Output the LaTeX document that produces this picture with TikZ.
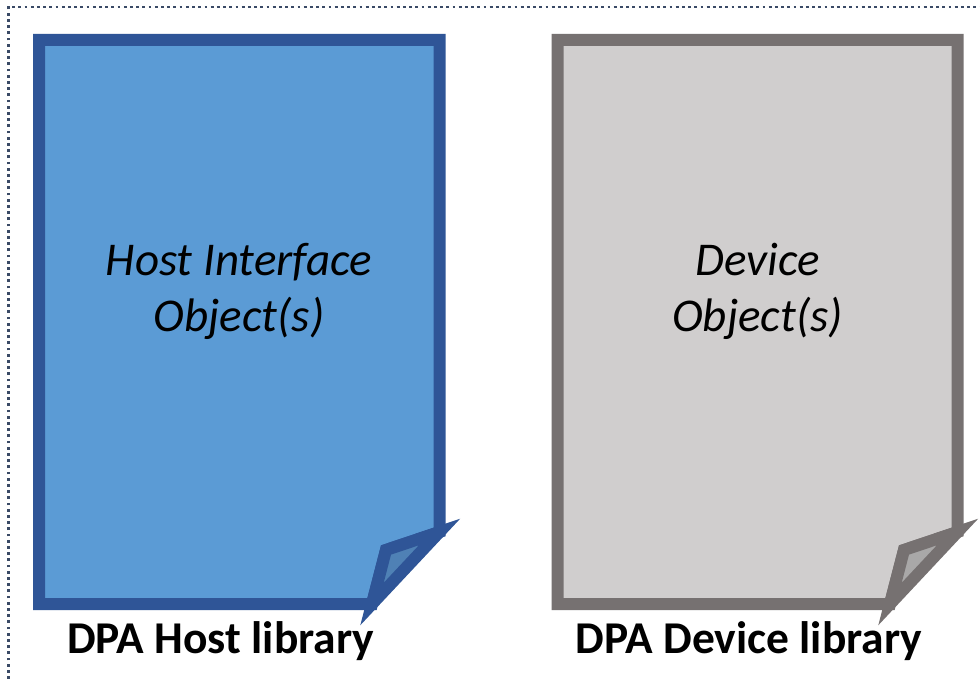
\documentclass[tikz,border=0pt]{standalone}
\usepackage{fontspec}
\setmainfont{Carlito}
\definecolor{hostfill}{HTML}{5B9BD5}
\definecolor{hostline}{HTML}{2F5597}
\definecolor{hostflap}{HTML}{4F81B5}
\definecolor{devfill}{HTML}{D0CECE}
\definecolor{devline}{HTML}{767171}
\definecolor{devflap}{HTML}{A9A8A8}
\definecolor{frameline}{HTML}{3A4A66}
\tikzset{
  docpage/.style={line width=12pt, line join=miter, miter limit=10},
  doctext/.style={align=center, text=black, font=\fontsize{47}{56}\selectfont\itshape, inner sep=0pt},
  doclabel/.style={text=black, font=\fontsize{45.5}{54}\selectfont\bfseries, inner sep=0pt, anchor=base},
  frame/.style={frameline, line width=2.9pt, dash pattern=on 2.8pt off 3.4pt}
}
\begin{document}
\begin{tikzpicture}[x=1pt,y=-1pt]
\useasboundingbox[fill=white] (0,0) rectangle (980,679);
% dotted frame (top and left edges)
\draw[frame] (8.5,679) -- (8.5,7) -- (980,7);

% host library page with folded corner
\draw[docpage, draw=hostline, fill=hostfill]
  (39,40) -- (439.5,40) -- (439.5,532) -- (386,550) -- (372,604) -- (39,604) -- cycle;
\draw[docpage, draw=hostline, fill=hostflap]
  (439.5,532) -- (386,550) -- (372,604) -- cycle;

% device library page with folded corner
\draw[docpage, draw=devline, fill=devfill]
  (557.5,40) -- (957.5,40) -- (957.5,532) -- (904,550) -- (890,604) -- (557.5,604) -- cycle;
\draw[docpage, draw=devline, fill=devflap]
  (957.5,532) -- (904,550) -- (890,604) -- cycle;

% captions inside the pages (anchored on the last baseline)
\node[doctext, anchor=base] (hosttext) at (239,331) {Host Interface\\Object(s)};
\node[doctext, anchor=base] (devtext) at (757.5,331) {Device\\Object(s)};

\node[doclabel] (hostlabel) at (220.5,653) {DPA Host library};
\node[doclabel] (devlabel) at (749,653) {DPA Device library};
\end{tikzpicture}
\end{document}
